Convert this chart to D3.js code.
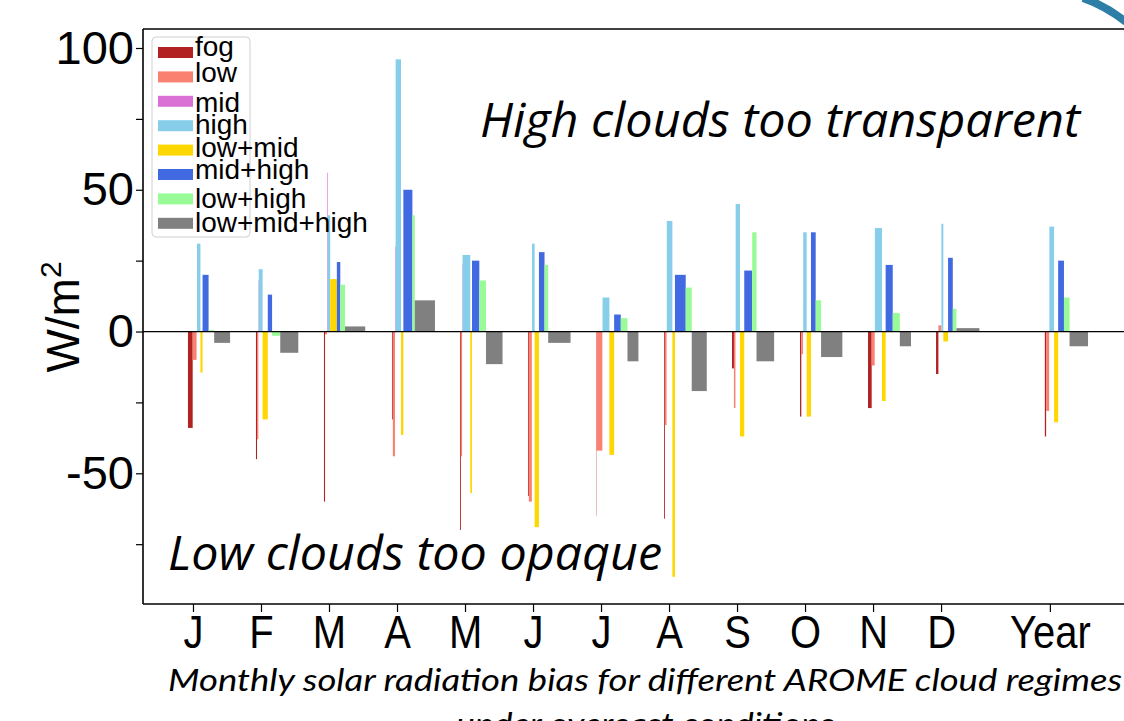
<!DOCTYPE html>
<html>
<head>
<meta charset="utf-8">
<script src="https://cdn.jsdelivr.net/npm/d3@7"></script>
<style>
  html, body { margin: 0; padding: 0; background: #fff; }
  svg { display: block; }
  .axis path, .axis line { stroke: #000; stroke-width: 1.2; }
  .y-axis text { font-family: "Liberation Sans", Arial, sans-serif; font-size: 47px; fill: #000; }
  .x-axis text { font-family: "Liberation Sans", Arial, sans-serif; font-size: 47px; fill: #000; }
  .legend text { font-family: "Liberation Sans", Arial, sans-serif; font-size: 28px; fill: #000; }
  .note { font-family: "Open Sans", sans-serif; font-style: italic; font-size: 47px; fill: #000; }
  .caption { font-family: Lato, "Open Sans", sans-serif; font-style: italic; font-size: 31px; fill: #000; }
  .y-label { font-family: "Liberation Sans", Arial, sans-serif; font-size: 46px; fill: #000; }
</style>
</head>
<body>
<div id="chart"></div>
<script>
var W = 1124, H = 721;

var graph_margin = { top: 29, bottom: 117, left: 143, right: 0 };

var categories = ['J', 'F', 'M', 'A', 'M', 'J', 'J', 'A', 'S', 'O', 'N', 'D', 'Year'];
var category_pos = [0, 1, 2, 3, 4, 5, 6, 7, 8, 9, 10, 11, 12.6];

var regimes = ['fog', 'low', 'mid', 'high', 'low+mid', 'mid+high', 'low+high', 'low+mid+high'];
var regime_colors = ['#b22222', '#fa8072', '#da70d6', '#87ceeb', '#ffd700', '#4169e1', '#98fb98', '#808080'];

// solar radiation bias, W/m2
var fog_bias      = [-34, -45, -60, -31, -70, -58, -65, -66, -13, -30, -27, -15, -37];
var low_bias      = [-10, -38, -1, -44, -44, -60, -42, -33, -27, -8, -12, 2.2, -28];
var mid_bias      = [0, 18, 56, 30, 24, 0, 0, 0, 0, 0, 0, 0, 0];
var high_bias     = [31, 22, 41, 96, 27, 31, 12, 39, 45, 35, 36.5, 38, 37];
var lowmid_bias   = [-14.5, -31, 18.5, -36.5, -57, -69, -43.5, -86.5, -37, -30, -24.5, -3.5, -32];
var midhigh_bias  = [20, 13, 24.5, 50, 25, 28, 6, 20, 21.5, 35, 23.5, 26, 25];
var lowhigh_bias  = [0.5, -1.5, 16.5, 41, 18, 23.5, 4.7, 15.5, 35, 11, 6.5, 8, 12];
var all_bias      = [-4, -7.5, 1.8, 11, -11.5, -4, -10.5, -21, -10.5, -9, -5.2, 1.2, -5.2];

// occurrence of each regime (% of overcast cases) -> bar width
var fog_freq      = [11, 2.5, 2.5, 2, 2, 2, 0.7, 2, 4.5, 3, 8.5, 5.5, 3];
var low_freq      = [9, 3, 4.5, 5, 3, 7, 14, 4, 3.5, 4, 7, 6.5, 7];
var mid_freq      = [1, 1, 1.5, 1.5, 1, 0.5, 0.5, 0.5, 0.5, 0.5, 0.5, 0.5, 0.5];
var high_freq     = [8, 9, 6, 12.5, 18, 6, 16, 13, 10, 8, 16.5, 4.5, 11];
var lowmid_freq   = [5, 12, 15.5, 5.5, 4, 10, 11, 6, 10, 10, 8.5, 11, 9.5];
var midhigh_freq  = [14, 10, 8, 21, 17, 13, 15.5, 25, 18.5, 11, 16.5, 11, 13.5];
var lowhigh_freq  = [13, 19, 11, 5.5, 15.5, 8.5, 15.5, 14, 10, 12.5, 16.5, 8.5, 13];
var all_freq      = [37, 42, 47, 47, 38.5, 52, 25.5, 35, 41, 49.5, 26, 53.5, 43];

var y_major = [100, 50, 0, -50];
var y_minor = [75, 25, -25, -75];

var bias = [fog_bias, low_bias, mid_bias, high_bias, lowmid_bias, midhigh_bias, lowhigh_bias, all_bias];
var freq = [fog_freq, low_freq, mid_freq, high_freq, lowmid_freq, midhigh_freq, lowhigh_freq, all_freq];

var group_shift = -0.074;   // group starts a bit left of its tick
var pct_width = 0.00632;    // x units per percent of occurrence

// legend labels sit unevenly against their patches in the original
var legend_dy = [9, 11, 15.7, 13.7, 12, 10, 14.7, 14];

function graph_object() {
  var m = graph_margin;
  var svg = d3.select('#chart').append('svg')
    .attr('width', W)
    .attr('height', H);

  return {
    svg: svg,
    width: W - m.left - m.right,
    height: H - m.top - m.bottom
  };
}

function graph_rows() {
  var rows = [];
  categories.forEach((c, i) => {
    var cum = 0;
    regimes.forEach((r, j) => {
      var x0 = category_pos[i] + group_shift + cum * pct_width;
      rows.push({ reg: j, x0: x0, x1: x0 + freq[j][i] * pct_width, v: bias[j][i] });
      cum += freq[j][i];
    });
  });
  return rows;
}

function graph_bars(gph, x, y, rows) {
  gph.append('g')
    .attr('class', 'bars')
    .selectAll('rect')
    .data(rows)
    .join('rect')
    .attr('x', d => x(d.x0))
    .attr('width', d => x(d.x1) - x(d.x0))
    .attr('y', d => y(Math.max(0, d.v)))
    .attr('height', d => Math.abs(y(d.v) - y(0)))
    .attr('fill', d => regime_colors[d.reg]);
}

function graph_axes(gph, x, y, width, height) {
  gph.append('line')
    .attr('x1', 0).attr('x2', width)
    .attr('y1', y(0)).attr('y2', y(0))
    .attr('stroke', '#000').attr('stroke-width', 1.2);

  gph.append('g')
    .attr('class', 'axis y-axis')
    .call(d3.axisLeft(y).tickValues(y_minor).tickSize(7).tickFormat(''));

  gph.append('g')
    .attr('class', 'axis y-axis')
    .call(d3.axisLeft(y).tickValues(y_major).tickSize(7).tickPadding(2).tickFormat(d => String(d)));

  gph.selectAll('.y-axis .domain').remove();

  gph.append('g')
    .attr('class', 'axis x-axis')
    .attr('transform', `translate(0, ${ height })`)
    .call(d3.axisBottom(x)
          .tickValues(category_pos)
          .tickSize(8)
          .tickPadding(3)
          .tickFormat((d, i) => categories[i]));

  gph.selectAll('.x-axis .domain').remove();
  // the month letters are set in a narrow face
  gph.selectAll('.x-axis .tick text').attr('transform', 'scale(0.85, 1)');

  // spines: left, top, bottom
  var spine = [[0, 0, 0, height], [0, width, 0, 0], [0, width, height, height]];
  spine.forEach(s => {
    gph.append('line')
      .attr('x1', s[0]).attr('x2', s[1])
      .attr('y1', s[2]).attr('y2', s[3])
      .attr('stroke', '#000').attr('stroke-width', 1.6);
  });
}

function graph_legend(svg) {
  var lg = svg.append('g').attr('class', 'legend');

  lg.append('rect')
    .attr('x', 152).attr('y', 37)
    .attr('width', 98).attr('height', 200)
    .attr('rx', 4)
    .attr('fill', '#fff').attr('fill-opacity', 0.8)
    .attr('stroke', '#d0d0d0');

  regimes.forEach((r, j) => {
    var top = 47 + j * 24.4;
    lg.append('rect')
      .attr('x', 158).attr('y', top)
      .attr('width', 35).attr('height', 11)
      .attr('fill', regime_colors[j]);
    lg.append('text')
      .attr('x', 195)
      .attr('y', top + legend_dy[j])
      .text(r);
  });
}

function graph_texts(svg) {
  var yl = svg.append('text')
    .attr('class', 'y-label')
    .attr('transform', 'translate(79, 317) rotate(-90)')
    .attr('text-anchor', 'middle');
  yl.append('tspan').text('W/m');
  yl.append('tspan')
    .attr('dy', -18)
    .attr('font-size', 30)
    .text('2');

  svg.append('text')
    .attr('class', 'note')
    .attr('x', 480).attr('y', 137)
    .attr('textLength', 600).attr('lengthAdjust', 'spacingAndGlyphs')
    .text('High clouds too transparent');

  svg.append('text')
    .attr('class', 'note')
    .attr('x', 168).attr('y', 570)
    .attr('textLength', 494).attr('lengthAdjust', 'spacingAndGlyphs')
    .text('Low clouds too opaque');

  svg.append('text')
    .attr('class', 'caption')
    .attr('x', 168).attr('y', 691)
    .attr('textLength', 954).attr('lengthAdjust', 'spacingAndGlyphs')
    .text('Monthly solar radiation bias for different AROME cloud regimes');

  svg.append('text')
    .attr('class', 'caption')
    .attr('x', 645).attr('y', 735)
    .attr('text-anchor', 'middle')
    .attr('textLength', 378).attr('lengthAdjust', 'spacingAndGlyphs')
    .text('under overcast conditions');

  // slide decoration in the corner
  svg.append('path')
    .attr('d', 'M1083,-2 Q1106,6 1126,22')
    .attr('fill', 'none')
    .attr('stroke', '#2e7fa8')
    .attr('stroke-width', 8);
}

var g = graph_object();
var m = graph_margin;

var x = d3.scaleLinear().domain([-0.735, 13.69]).range([0, g.width]);
var y = d3.scaleLinear().domain([-96.1, 106.7]).range([g.height, 0]);

var gph = g.svg.append('g')
  .attr('transform', `translate(${ m.left }, ${ m.top })`);

graph_bars(gph, x, y, graph_rows());
graph_axes(gph, x, y, g.width, g.height);
graph_legend(g.svg);
graph_texts(g.svg);
</script>
</body>
</html>
